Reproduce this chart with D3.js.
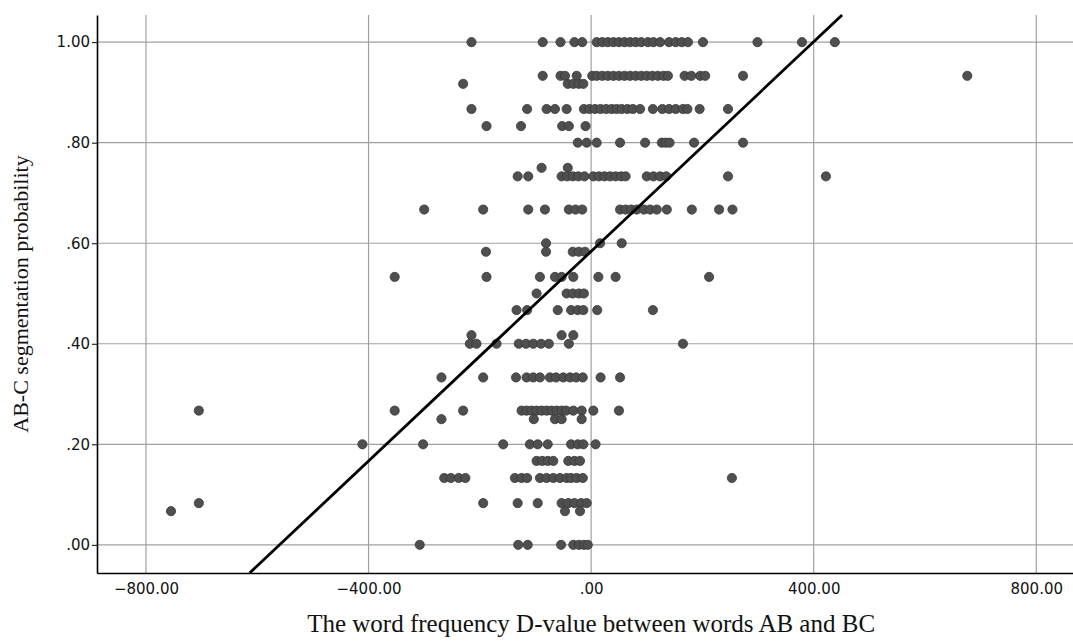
<!DOCTYPE html>
<html>
<head>
<meta charset="utf-8">
<script src="https://cdn.jsdelivr.net/npm/d3@7"></script>
<style>
	body { margin: 0; background: #fff; }
	.axis path, .axis line { stroke: #000; }
</style>
</head>
<body>
<div id="chart-area"></div>
<script>
/*
*    scatter of segmentation probability vs D-value
*/
var mwidth = 1073;
var mheight = 641;
var margin = {top: 15, right: 0, bottom: 68, left: 97};
var w = mwidth - margin.left - margin.right;
var h = mheight - margin.top - margin.bottom;

// y levels (probabilities) and the D-values of the points that sit on each level
var levels = [1.00, 0.933, 0.917, 0.867, 0.833, 0.80, 0.75, 0.733, 0.667, 0.60, 0.583,
	0.533, 0.50, 0.467, 0.417, 0.40, 0.333, 0.267, 0.25, 0.20, 0.167, 0.133, 0.083, 0.067, 0.00];

var xByLevel = [
	[-215, -87, -55, -30, -16, 10, 20, 30, 40, 50, 60, 70, 80, 90, 102, 112, 124, 140, 152, 163, 174, 201, 299, 379, 438],
	[-87, -55, -47, -26, 2, 10, 20, 30, 40, 50, 60, 70, 80, 90, 100, 110, 120, 130, 138, 168, 180, 196, 205, 273, 676],
	[-230, -42, -32, -22, -14],
	[-215, -115, -80, -65, -44, -13, -3, 7, 17, 27, 37, 46, 55, 65, 75, 88, 111, 128, 140, 152, 165, 173, 195, 246],
	[-188, -126, -52, -40, -10],
	[-24, -8, 10, 52, 97, 127, 134, 141, 185, 273],
	[-89, -42],
	[-132, -113, -53, -43, -33, -23, -12, 4, 14, 24, 34, 44, 54, 62, 100, 112, 124, 135, 246, 422],
	[-300, -194, -113, -83, -40, -28, -16, 52, 62, 72, 82, 95, 106, 118, 136, 181, 230, 254],
	[-81, 16, 55],
	[-189, -81, -33, -22, -11],
	[-353, -188, -92, -65, -53, -32, 13, 44, 212],
	[-98, -44, -33, -22, -13],
	[-134, -115, -60, -36, -24, -14, 11, 111],
	[-215, -53, -32],
	[-218, -206, -170, -130, -117, -104, -90, -76, -40, 165],
	[-269, -194, -135, -116, -104, -92, -74, -63, -50, -38, -27, -15, 17, 52],
	[-705, -353, -230, -125, -116, -107, -98, -89, -80, -71, -62, -53, -45, -32, -17, 4, 50],
	[-269, -103, -65, -53, -17],
	[-411, -302, -158, -110, -96, -78, -36, -24, -14, 8],
	[-98, -88, -78, -68, -41, -30, -20],
	[-264, -252, -238, -226, -137, -125, -115, -92, -80, -68, -56, -44, -36, -26, -15, 253],
	[-705, -194, -132, -96, -53, -41, -30, -18, -8],
	[-755, -47, -20],
	[-308, -131, -114, -54, -32, -22, -13, -6]
];

// fit line: intercept, slope
var fitLine = [0.5838, 0.0010425];

var xTicks = [-800, -400, 0, 400, 800];
var yTicks = [0, 0.2, 0.4, 0.6, 0.8, 1.0];

var data = [];
levels.forEach((lv, i) => {
	xByLevel[i].forEach((xv) => { data.push({x: xv, y: lv}); });
});

var svg = d3.select("#chart-area").append("svg")
	.attr("width", mwidth)
	.attr("height", mheight);

var g = svg.append("g")
	.attr("transform", "translate(" + margin.left + ", " + margin.top + ")");

var x = d3.scaleLinear()
	.domain([-888, 866])
	.range([0, w]);

var y = d3.scaleLinear()
	.domain([-0.056, 1.054])
	.range([h, 0]);

var fmt = d3.format(".2f");
var tickFmt = (d) => { var s = fmt(d); return s.replace(/^(\u2212?)0\./, "$1."); };

// grid
g.append("g")
	.selectAll("line.vgrid")
	.data(xTicks)
	.enter().append("line")
		.attr("x1", (d) => x(d)).attr("x2", (d) => x(d))
		.attr("y1", 0).attr("y2", h)
		.attr("stroke", "#a0a0a0")
		.attr("stroke-width", 1.2);

g.append("g")
	.selectAll("line.hgrid")
	.data(yTicks)
	.enter().append("line")
		.attr("x1", 0).attr("x2", w)
		.attr("y1", (d) => y(d)).attr("y2", (d) => y(d))
		.attr("stroke", "#a0a0a0")
		.attr("stroke-width", 1.2);

// points
g.selectAll("circle")
	.data(data)
	.enter().append("circle")
		.attr("cx", (d) => x(d.x))
		.attr("cy", (d) => y(d.y))
		.attr("r", 4.6)
		.attr("fill", "#4f4f4f")
		.attr("stroke", "#383838")
		.attr("stroke-width", 0.8);

// fit line, clipped to plot top/bottom
var yd = y.domain();
var xa = (yd[0] - fitLine[0]) / fitLine[1];
var xb = (yd[1] - fitLine[0]) / fitLine[1];
g.append("line")
	.attr("x1", x(xa)).attr("y1", y(yd[0]))
	.attr("x2", x(xb)).attr("y2", y(yd[1]))
	.attr("stroke", "#000")
	.attr("stroke-width", 2.8);

// axes
var xAxisCall = d3.axisBottom(x)
	.tickValues(xTicks)
	.tickSize(0)
	.tickSizeOuter(0)
	.tickFormat(tickFmt);

var leftAxis = d3.axisLeft(y)
	.tickValues(yTicks)
	.tickSize(5)
	.tickSizeOuter(0)
	.tickFormat(tickFmt);

g.append("g")
	.attr("class", "bottom axis")
	.attr("transform", "translate(0, " + h + ")")
	.call(xAxisCall)
	.selectAll("text")
		.attr("y", 10)
		.attr("dy", "0.71em")
		.attr("font-family", "'DejaVu Sans', sans-serif")
		.attr("font-size", "15px")
		.style("fill", "#111");

g.append("g")
	.attr("class", "left axis")
	.call(leftAxis)
	.selectAll("text")
		.attr("x", -7)
		.attr("font-family", "'DejaVu Sans', sans-serif")
		.attr("font-size", "15px")
		.style("fill", "#111");

g.selectAll(".axis path").attr("stroke-width", 1.6);

// Y Label
g.append("text")
	.attr("class", "y axis-label")
	.attr("x", -(h / 2))
	.attr("y", -69)
	.attr("font-size", "22px")
	.attr("font-family", "'Liberation Serif', 'Times New Roman', serif")
	.attr("text-anchor", "middle")
	.attr("transform", "rotate(-90)")
	.style("fill", "#111")
	.text("AB-C segmentation probability");

// X Label
g.append("text")
	.attr("class", "x axis-label")
	.attr("x", x(0))
	.attr("y", h + 59)
	.attr("font-size", "25px")
	.attr("font-family", "'Liberation Serif', 'Times New Roman', serif")
	.attr("text-anchor", "middle")
	.style("fill", "#111")
	.text("The word frequency D-value between words AB and BC");
</script>
</body>
</html>
